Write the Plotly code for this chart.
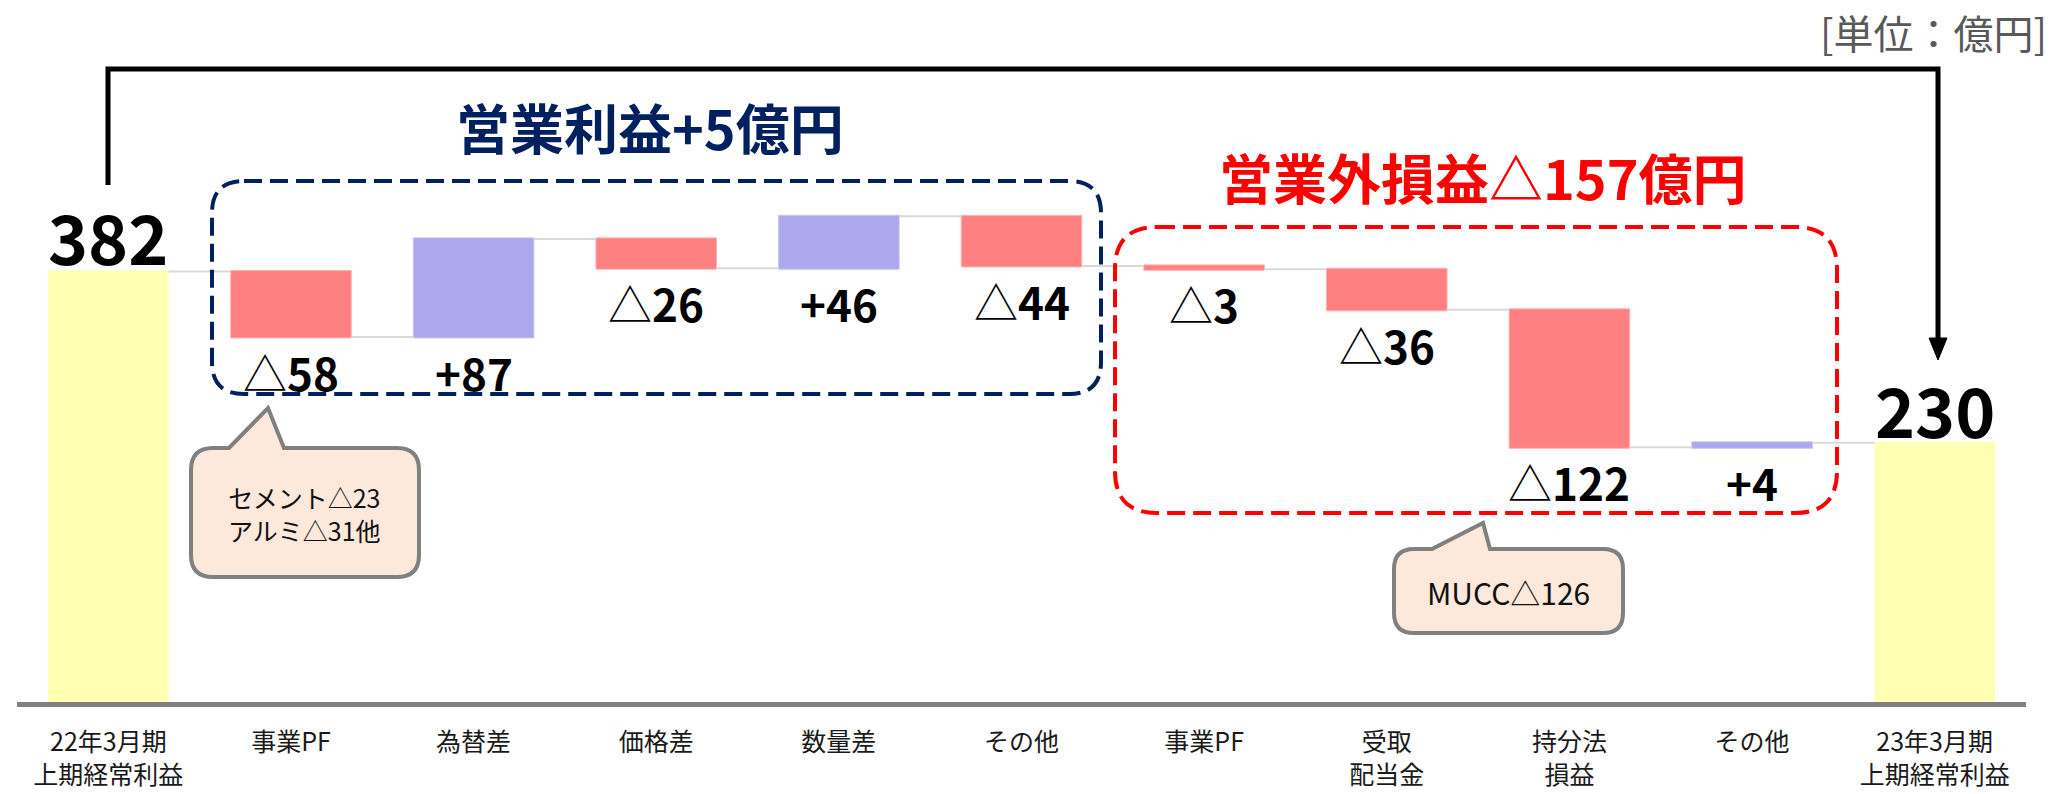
import plotly.graph_objects as go

# ---------------- data ----------------
categories = ["22年3月期<br>上期経常利益", "事業PF", "為替差", "価格差", "数量差", "その他",
              "事業PF", "受取<br>配当金", "持分法<br>損益", "その他", "23年3月期<br>上期経常利益"]
values = [382, -58, 87, -26, 46, -44, -3, -36, -122, 4, 230]
measures = ["absolute"] + ["relative"] * 9 + ["total"]
group_titles = ["営業利益+5億円", "営業外損益△157億円"]
notes = ["セメント△23<br>アルミ△31他", "MUCC△126"]
unit_label = "[単位：億円]"

# ---------------- layout helpers ----------------
W, H = 2072, 794
ML, MR, MT, MB = 17, 46, 0, 92
YMAX = 623.0
n = len(categories)
PW = W - ML - MR
PH = H - MT - MB
FONT = "Noto Sans CJK JP"


def X(px):
    return (px - ML) / PW * n - 0.5


def Y(py):
    return (MT + PH - py) / PH * YMAX


def P(px, py):
    return f"{X(px):.5f},{Y(py):.4f}"


def rounded_path(x0, y0, x1, y1, r, tail=None):
    s = f"M {P(x0 + r, y0)}"
    if tail:
        bl, tx, ty, br = tail
        s += f" L {P(bl, y0)} L {P(tx, ty)} L {P(br, y0)}"
    s += f" L {P(x1 - r, y0)} Q {P(x1, y0)} {P(x1, y0 + r)}"
    s += f" L {P(x1, y1 - r)} Q {P(x1, y1)} {P(x1 - r, y1)}"
    s += f" L {P(x0 + r, y1)} Q {P(x0, y1)} {P(x0, y1 - r)}"
    s += f" L {P(x0, y0 + r)} Q {P(x0, y0)} {P(x0 + r, y0)} Z"
    return s


xs = list(range(n))

fig = go.Figure(go.Waterfall(
    x=xs, y=values, measure=measures,
    textinfo="none", hoverinfo="skip",
    increasing=dict(marker=dict(color="#ABA8EE", line=dict(color="#C4C2F4", width=1))),
    decreasing=dict(marker=dict(color="#FF8080", line=dict(color="#FFB0B0", width=1))),
    totals=dict(marker=dict(color="#FFFFB2", line=dict(color="#FFFFB2", width=0))),
    connector=dict(mode="between", line=dict(color="#D9D9D9", width=2)),
))

annotations = []
cum = 0
for i, (v, m) in enumerate(zip(values, measures)):
    if m == "absolute":
        cum = v
        annotations.append(dict(x=i, y=v, text=f"<b>{v}</b>", showarrow=False, yanchor="middle",
                                yshift=36, font=dict(size=68, color="#000", family=FONT)))
    elif m == "total":
        annotations.append(dict(x=i, y=cum, text=f"<b>{cum}</b>", showarrow=False, yanchor="middle",
                                yshift=34, font=dict(size=68, color="#000", family=FONT)))
    else:
        lower = min(cum, cum + v)
        txt = f"△<b>{abs(v)}</b>" if v < 0 else f"<b>+{v}</b>"
        annotations.append(dict(x=i, y=lower, text=txt, showarrow=False, yanchor="middle",
                                yshift=-35, font=dict(size=44, color="#000", family=FONT)))
        cum += v

# group titles
annotations.append(dict(x=X(650), y=Y(126), text=f"<b>{group_titles[0]}</b>", showarrow=False,
                        font=dict(size=54, color="#002060", family=FONT)))
annotations.append(dict(x=X(1483), y=Y(176), text=f"<b>{group_titles[1]}</b>", showarrow=False,
                        font=dict(size=54, color="#FF0000", family=FONT)))
# callout texts
annotations.append(dict(x=X(304), y=Y(513), text=notes[0], showarrow=False,
                        font=dict(size=25, color="#111", family=FONT)))
annotations.append(dict(x=X(1508), y=Y(592), text=notes[1], showarrow=False,
                        font=dict(size=30, color="#111", family=FONT)))
# unit label
annotations.append(dict(xref="paper", yref="paper", x=(2049 - ML) / PW, y=Y(32) / YMAX,
                        xanchor="right", yanchor="middle", text=unit_label, showarrow=False,
                        font=dict(size=40, color="#595959", family=FONT)))

shapes = []
# bracket line and arrow
shapes.append(dict(type="path", xref="x", yref="y",
                   path=f"M {P(108, 185)} L {P(108, 69)} L {P(1938, 69)} L {P(1938, 345)}",
                   line=dict(color="#000", width=5), fillcolor="rgba(0,0,0,0)"))
shapes.append(dict(type="path", xref="x", yref="y",
                   path=f"M {P(1929, 338)} L {P(1947, 338)} L {P(1938, 360)} Z",
                   line=dict(color="#000", width=1), fillcolor="#000"))
# dashed group boxes
shapes.append(dict(type="path", xref="x", yref="y", path=rounded_path(212, 181, 1101, 394, 32),
                   line=dict(color="#002060", width=4, dash="18px,8px"), fillcolor="rgba(0,0,0,0)"))
shapes.append(dict(type="path", xref="x", yref="y", path=rounded_path(1115, 227, 1837, 513, 42),
                   line=dict(color="#FF0000", width=4, dash="18px,8px"), fillcolor="rgba(0,0,0,0)"))
# callouts
shapes.append(dict(type="path", xref="x", yref="y",
                   path=rounded_path(191, 448, 419, 577, 22, tail=(229, 268, 408, 284)),
                   line=dict(color="#808080", width=4), fillcolor="#FCE9DB"))
shapes.append(dict(type="path", xref="x", yref="y",
                   path=rounded_path(1394, 549, 1623, 633, 20, tail=(1432, 1483, 523, 1490)),
                   line=dict(color="#808080", width=4), fillcolor="#FCE9DB"))

fig.update_layout(
    width=W, height=H,
    margin=dict(l=ML, r=MR, t=MT, b=MB, autoexpand=False),
    paper_bgcolor="white", plot_bgcolor="white",
    showlegend=False, waterfallgap=0.34,
    annotations=annotations, shapes=shapes,
    font=dict(family=FONT),
    xaxis=dict(range=[-0.5, n - 0.5], tickvals=xs, ticktext=categories, showgrid=False,
               zeroline=False, showline=True, linecolor="#808080", linewidth=5, ticks="",
               tickfont=dict(size=25, color="#1A1A1A", family=FONT), automargin=False,
               ticklabelstandoff=14),
    yaxis=dict(range=[0, YMAX], visible=False, showgrid=False, zeroline=False, fixedrange=True),
)

fig.write_html("out.html", config={"displayModeBar": False},
               post_script="document.body.style.margin='0';document.body.style.overflow='hidden';")
